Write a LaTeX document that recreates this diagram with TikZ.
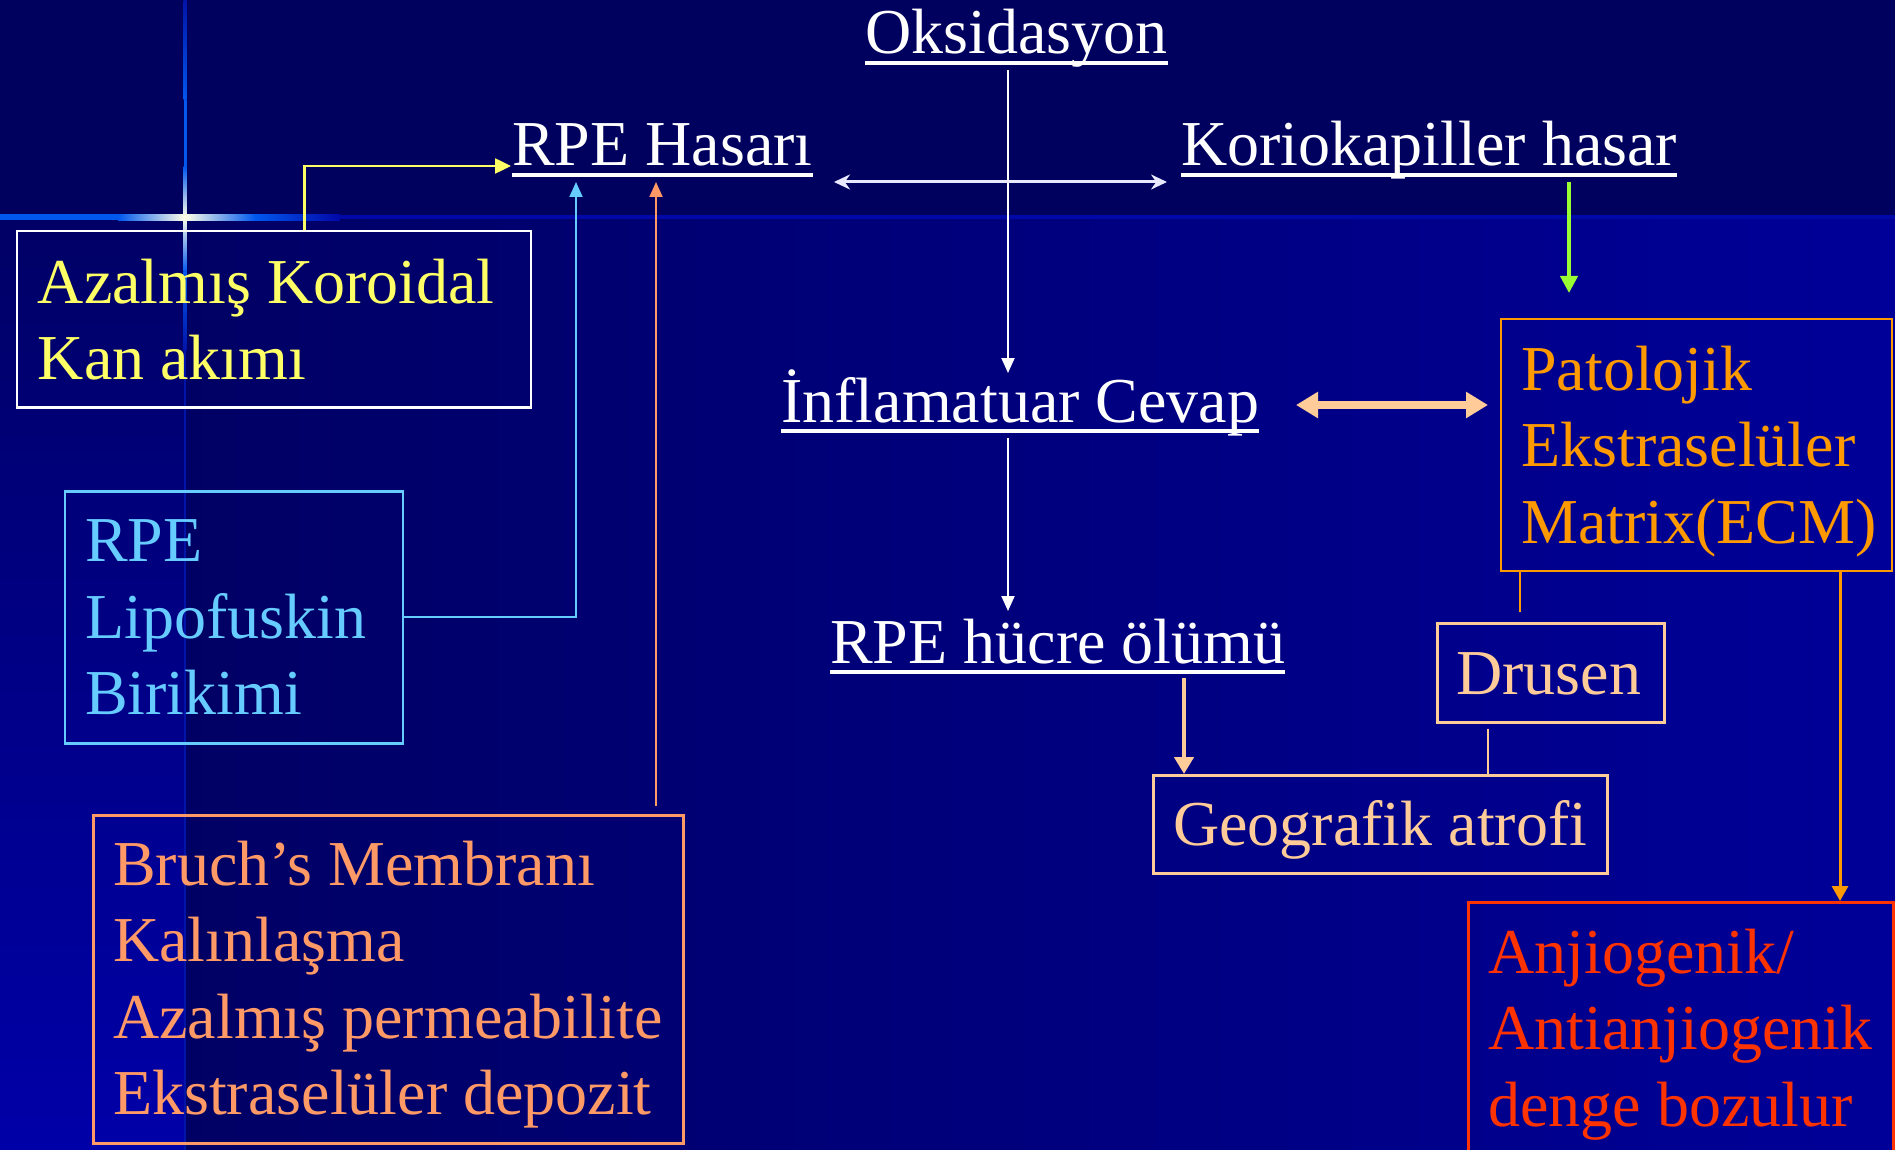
\documentclass[tikz,border=0pt]{standalone}
\usepackage{fontspec}
\setmainfont{Liberation Serif}
\usetikzlibrary{arrows.meta,calc}
\definecolor{bandc}{HTML}{00005E}
\definecolor{stripetop}{HTML}{000066}
\definecolor{stripebot}{HTML}{0000A8}
\definecolor{mainl}{HTML}{000064}
\definecolor{mainm}{HTML}{00008C}
\definecolor{mainr}{HTML}{000098}
\definecolor{bandline}{HTML}{0008A8}
\definecolor{flareblue}{HTML}{0058EE}
\definecolor{flaredim}{HTML}{0014A8}
\definecolor{flarewhite}{HTML}{FFFFE8}
\definecolor{cyel}{HTML}{FFFF66}
\definecolor{cblue}{HTML}{66CCFF}
\definecolor{csalm}{HTML}{FF9966}
\definecolor{corange}{HTML}{FF9900}
\definecolor{cpeach}{HTML}{FFCC99}
\definecolor{cred}{HTML}{FF3300}
\definecolor{cgreen}{HTML}{99FF33}
\definecolor{cwhite2}{HTML}{E8E8FF}
\tikzset{
  txt/.style={inner sep=0pt, anchor=base west, font=\fontsize{64}{76.5}\selectfont},
  ttl/.style={txt, text=white},
  uline/.style={draw=white, line width=3.5pt},
  bx/.style={draw, line width=2.5pt, inner sep=0pt, anchor=north west},
  thin/.style={line width=2pt},
  tipS/.style={-{Triangle[width=13pt,length=15pt]}},
}
\newcommand{\lines}[1]{\begin{tabular}[t]{@{}l@{}}#1\end{tabular}}
\begin{document}
\begin{tikzpicture}[x=1pt,y=-1pt]
\useasboundingbox (0,0) rectangle (1895,1150);
\clip (0,0) rectangle (1895,1150);
% background
\fill[bandc] (0,0) rectangle (1895,218);
\shade[top color=stripetop, bottom color=stripebot] (0,218) rectangle (185,1150);
\shade[left color=mainl, middle color=mainm, right color=mainr] (185,218) rectangle (1895,1150);
\fill[bandline] (0,215.5) rectangle (1895,219.5);
% lens flare
\fill[flareblue] (0,214.5) rectangle (118,220.5);
\shade[left color=flareblue, right color=flarewhite] (118,214.5) rectangle (185,220.5);
\shade[left color=flarewhite, right color=flareblue] (185,214.5) rectangle (255,220.5);
\shade[left color=flareblue, right color=bandline] (255,214.5) rectangle (340,220.5);
\fill[flaredim] (184.2,350) rectangle (185.8,1150);
\shade[top color=flaredim, bottom color=flareblue] (183.5,0) rectangle (186.5,100);
\fill[flareblue] (183.5,100) rectangle (186.5,167);
\shade[top color=flareblue, bottom color=flarewhite] (183.5,167) rectangle (186.5,217);
\shade[top color=flarewhite, bottom color=flareblue] (183.5,217) rectangle (186.5,272);
\shade[top color=flareblue, bottom color=flaredim] (183.5,272) rectangle (186.5,350);

% boxes
\node[bx, draw=white, minimum width=514pt, minimum height=176pt] (azb) at (15.7,230) {};
\node[bx, draw=cblue, minimum width=338pt, minimum height=252pt] (rpb) at (63.6,490) {};
\node[bx, draw=csalm, minimum width=590pt, minimum height=328pt] (brb) at (92,814) {};
\node[bx, draw=corange, line width=2pt, minimum width=391pt, minimum height=252pt] (patb) at (1500,318) {};
\node[bx, draw=cpeach, minimum width=227pt, minimum height=99pt] (drb) at (1436,622) {};
\node[bx, draw=cpeach, minimum width=454pt, minimum height=98pt] (geob) at (1152,774) {};
\node[bx, draw=cred, minimum width=425pt, minimum height=270pt] (anjb) at (1467,901) {};

% box texts
\node[txt, text=cyel] (azt) at (37.6,303) {\lines{Azalmış Koroidal\\Kan akımı}};
\node[txt, text=cblue] (rpt) at (85,561.6) {\lines{RPE\\Lipofuskin\\Birikimi}};
\node[txt, text=csalm] (brt) at (113,885) {\lines{Bruch’s Membranı\\Kalınlaşma\\Azalmış permeabilite\\Ekstraselüler depozit}};
\node[txt, text=corange] (patt) at (1521,390) {\lines{Patolojik\\Ekstraselüler\\Matrix(ECM)}};
\node[txt, text=cpeach] (drt) at (1456,694) {Drusen};
\node[txt, text=cpeach] (geot) at (1173,845) {Geografik atrofi};
\node[txt, text=cred] (anjt) at (1488,973) {\lines{Anjiogenik/\\Antianjiogenik\\denge bozulur}};

% titles
\node[ttl] (oks) at (865,54) {Oksidasyon};
\node[ttl] (rpeh) at (512,166) {RPE Hasarı};
\node[ttl] (korio) at (1181,166) {Koriokapiller hasar};
\node[ttl] (infl) at (781,422) {İnflamatuar Cevap};
\node[ttl] (hucre) at (830,663) {RPE hücre ölümü};
\foreach \n in {oks,rpeh,korio,infl,hucre}
  \draw[uline] ([yshift=-9pt]\n.base west) -- ([yshift=-9pt]\n.base east);

% connectors
\draw[white, thin, tipS] ($(1008,0 |- oks.base)+(0,16)$) -- ($(1008,0 |- infl.base)+(0,-49)$);
\draw[white, thin, tipS] ($(1008,0 |- infl.base)+(0,16)$) -- ($(1008,0 |- hucre.base)+(0,-52)$);
\draw[cwhite2, line width=3pt, {Stealth[width=15pt,length=16pt]}-{Stealth[width=15pt,length=16pt]}]
  ($(834,0 |- rpeh.base)+(0,16)$) -- ($(korio.base west)+(-14,16)$);
\draw[cgreen, line width=4pt, -{Triangle[width=17pt,length=17pt]}]
  ($(1569,0 |- korio.base)+(0,16)$) -- ($(1569,0 |- patb.north)+(0,-25)$);
\draw[cpeach, line width=8pt, {Triangle[width=25pt,length=22pt]}-{Triangle[width=25pt,length=22pt]}]
  ($(1296,0 |- infl.base)+(0,-17)$) -- ($(patb.west |- 0,405)+(-12,0)$);
\draw[cyel, line width=2.5pt, -{Triangle[width=15pt,length=16pt]}]
  (304.6,0 |- azb.north) |- ($(rpeh.base west)+(-1,0)$);
\draw[cblue, thin, tipS] (rpb.east) -| ($(576,0 |- rpeh.base)+(0,16)$);
\draw[csalm, thin, tipS] ($(656,0 |- brb.north)+(0,-8)$) -- ($(656,0 |- rpeh.base)+(0,16)$);
\draw[cpeach, line width=4.5pt, -{Triangle[width=19pt,length=17pt]}]
  ($(1184,0 |- hucre.base)+(0,15)$) -- (1184,0 |- geob.north);
\draw[cpeach, line width=1.5pt] ($(1488,0 |- drb.south)+(0,5)$) -- (1488,0 |- geob.north);
\draw[corange, line width=1.5pt] (1520,0 |- patb.south) -- ($(1520,0 |- drb.north)+(0,-10)$);
\draw[corange, line width=3pt, -{Triangle[width=16pt,length=15pt]}] (1840,0 |- patb.south) -- (1840,0 |- anjb.north);
\end{tikzpicture}
\end{document}
